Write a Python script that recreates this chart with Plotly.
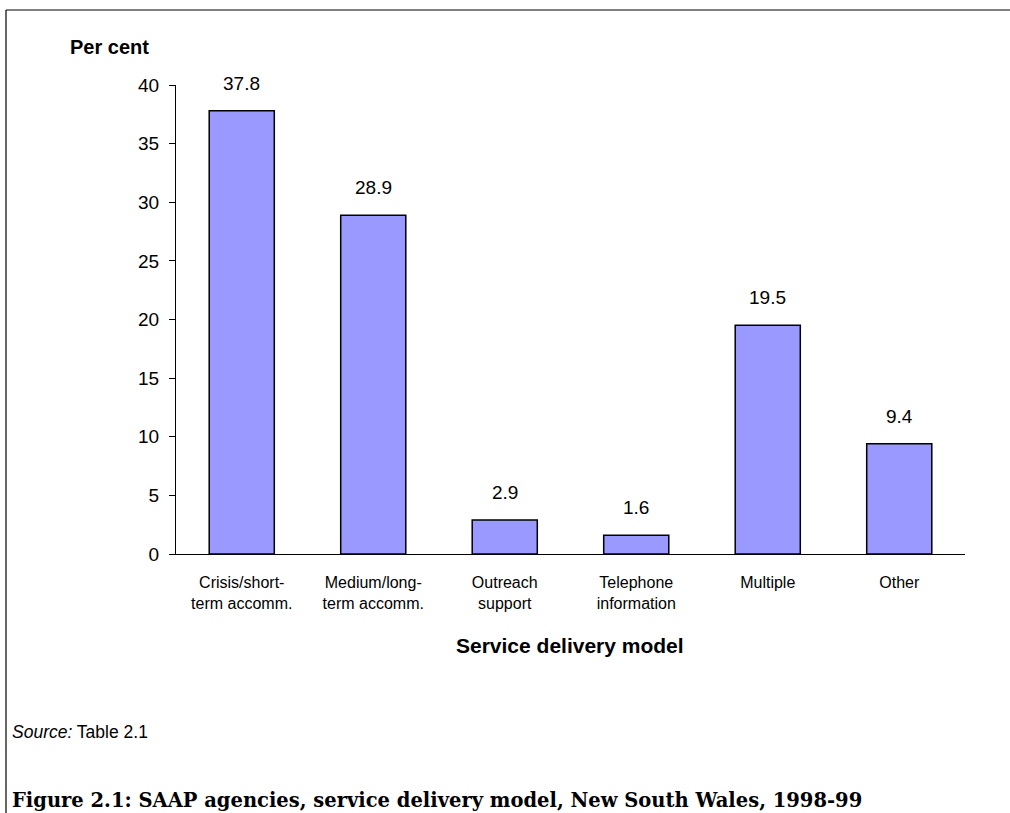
import plotly.graph_objects as go

categories = ["Crisis/short-<br>term accomm.", "Medium/long-<br>term accomm.", "Outreach<br>support",
              "Telephone<br>information", "Multiple", "Other"]
values = [37.8, 28.9, 2.9, 1.6, 19.5, 9.4]
y_ticks = [0, 5, 10, 15, 20, 25, 30, 35, 40]

W, H = 1010, 813
L, R, T, B = 176, 45, 85, 259
pw, ph = W - L - R, H - T - B

def px_x(x):
    return (x - L) / pw

def px_y(y):
    return (H - B - y) / ph

fig = go.Figure()
fig.add_trace(go.Bar(
    x=categories, y=values, width=0.495,
    marker=dict(color="#9999FF", line=dict(color="black", width=1.5)),
    cliponaxis=False,
))

fig.update_layout(
    width=W, height=H,
    margin=dict(l=L, r=R, t=T, b=B, pad=0),
    paper_bgcolor="white", plot_bgcolor="white",
    showlegend=False,
    font=dict(family="Liberation Sans, Arial", color="black"),
    xaxis=dict(showline=True, linecolor="black", linewidth=1.2, ticks="outside", ticklen=14,
               tickcolor="rgba(0,0,0,0)", tickfont=dict(size=16), showgrid=False),
    yaxis=dict(range=[0, 40], tickvals=y_ticks, showline=True, linecolor="black", linewidth=1.2,
               ticks="outside", ticklen=6, tickcolor="black", tickfont=dict(size=19),
               ticklabelstandoff=6, showgrid=False, zeroline=False),
)

annotations = [
    dict(text="<b>Per cent</b>", x=px_x(68), y=px_y(47), xanchor="left", yanchor="middle",
         font=dict(size=20)),
    dict(text="<b>Service delivery model</b>", x=px_x(570), y=px_y(645), xanchor="center",
         yanchor="middle", font=dict(size=21)),
    dict(text="<i>Source:</i> Table 2.1", x=px_x(10), y=px_y(732), xanchor="left",
         yanchor="middle", font=dict(size=17.5)),
    dict(text="<b>Figure 2.1: SAAP agencies, service delivery model, New South Wales, 1998-99</b>",
         x=px_x(10), y=px_y(801), xanchor="left", yanchor="middle",
         font=dict(family="DejaVu Serif, Liberation Serif", size=19.5)),
]
for a in annotations:
    a.update(xref="paper", yref="paper", showarrow=False)
for c, v in zip(categories, values):
    annotations.append(dict(x=c, y=v, xref="x", yref="y", text=f"{v:.1f}", showarrow=False,
                            yanchor="bottom", yshift=15,
                            font=dict(family="Liberation Sans, Arial", size=19, color="black")))
fig.update_layout(annotations=annotations)

fig.add_shape(type="line", xref="paper", yref="paper", x0=px_x(6), x1=px_x(W + 5),
              y0=px_y(10), y1=px_y(10), line=dict(color="black", width=1.2))
fig.add_shape(type="line", xref="paper", yref="paper", x0=px_x(6), x1=px_x(6),
              y0=px_y(10), y1=px_y(H + 5), line=dict(color="black", width=1.2))

fig.write_html("out.html", config={"displayModeBar": False},
               post_script="document.body.style.margin='0';document.body.style.overflow='hidden';")
